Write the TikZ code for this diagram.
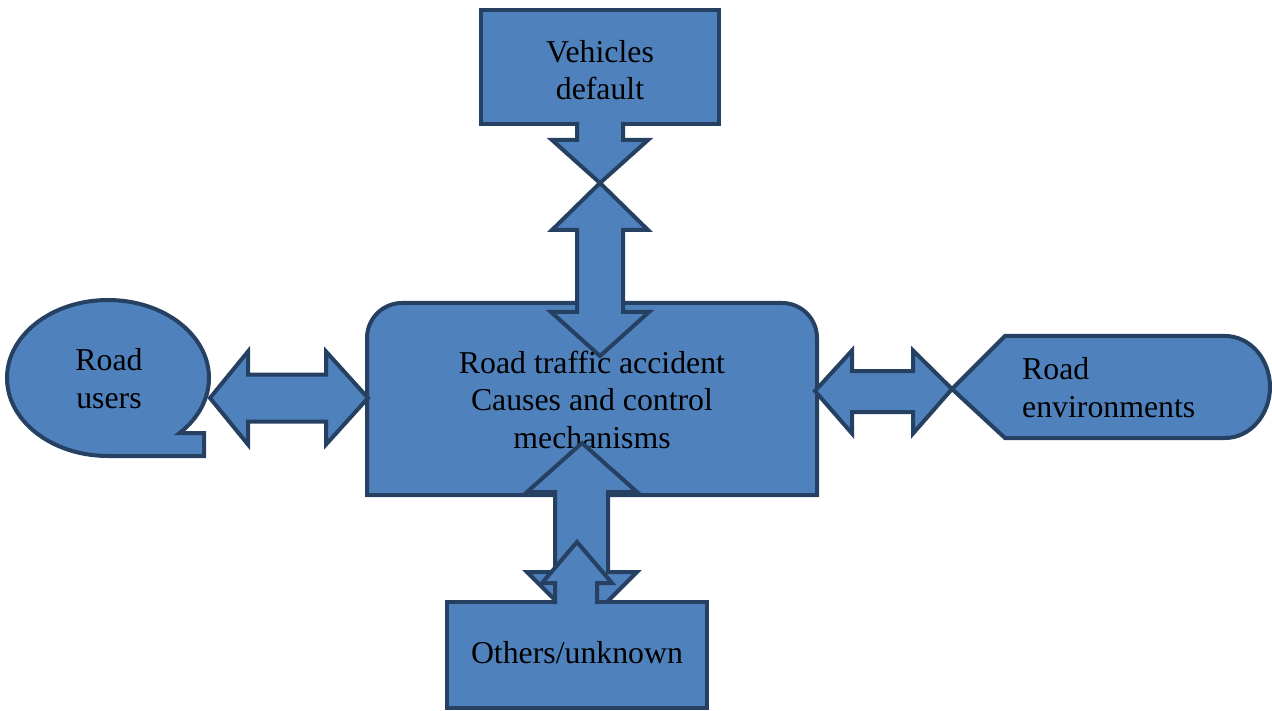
\documentclass[tikz,border=0pt]{standalone}
\usepackage{fontspec}
\setmainfont{Liberation Serif}
\definecolor{fillc}{RGB}{79,129,189}
\definecolor{linec}{RGB}{37,64,97}
\tikzset{
  shp/.style={fill=fillc, draw=linec, line width=4pt, line join=miter},
  fillonly/.style={fill=fillc, draw=none},
  edgeonly/.style={draw=linec, line width=4pt, line join=miter},
  lbl/.style={font=\fontsize{31.8}{37.5}\selectfont, text=black, inner sep=0pt, align=center, anchor=base},
}
\begin{document}
\begin{tikzpicture}[x=1pt,y=1pt]
\useasboundingbox (0,0) rectangle (1272,-711);

% Vehicles default box
\path[shp] (481,-10) rectangle (719,-124);
% down arrow from vehicles box
\path[fillonly] (577,-118) -- (577,-140) -- (552,-140) -- (600,-183) -- (648,-140) -- (623,-140) -- (623,-118) -- cycle;
\draw[edgeonly] (577,-122) -- (577,-140) -- (552,-140) -- (600,-183) -- (648,-140) -- (623,-140) -- (623,-122);

% central box (top corners rounded)
\path[shp] (367,-495) -- (367,-338) arc[start angle=180,end angle=90,radius=35]
  -- (782,-303) arc[start angle=90,end angle=0,radius=35] -- (817,-495) -- cycle;

% double arrow between vehicles and centre
\path[shp] (600,-183) -- (648,-230) -- (623,-230) -- (623,-312) -- (649,-312) -- (600,-356)
  -- (551,-312) -- (577,-312) -- (577,-230) -- (552,-230) -- cycle;

\node[lbl] (center) at (592,-448) {Road traffic accident\\Causes and control\\mechanisms};

% double arrow between centre and others
\path[shp] (582,-443) -- (637,-492) -- (608,-492) -- (608,-572) -- (637,-572) -- (582,-627)
  -- (527,-572) -- (555,-572) -- (555,-492) -- (527,-492) -- cycle;

% Others box
\path[shp] (447,-602) rectangle (707,-708);
% up arrow from others box
\path[fillonly] (555,-607) -- (555,-583) -- (542,-583) -- (577,-542) -- (612,-583) -- (597,-583) -- (597,-607) -- cycle;
\draw[edgeonly] (555,-604) -- (555,-583) -- (542,-583) -- (577,-542) -- (612,-583) -- (597,-583) -- (597,-604);

% Road users shape
\path[shp] (108,-456) arc[start angle=270,end angle=-45,x radius=101,y radius=78]
  -- (204,-433.2) -- (204,-456) -- cycle;
% left double arrow
\path[shp] (210,-398) -- (248,-351.5) -- (248,-374.5) -- (326,-374.5) -- (326,-351.5) -- (368,-398)
  -- (326,-444.5) -- (326,-421.5) -- (248,-421.5) -- (248,-444.5) -- cycle;

% Road environments shape
\path[shp] (952,-389) -- (1005,-336) -- (1225,-336) arc[start angle=90,end angle=-90,x radius=45,y radius=51]
  -- (1005,-438) -- cycle;
% right double arrow
\path[shp] (815,-391) -- (852,-350.5) -- (852,-371) -- (913,-371) -- (913,-350.5) -- (952,-389)
  -- (913,-433.5) -- (913,-412) -- (852,-412) -- (852,-433.5) -- cycle;

\node[lbl] (vehicles) at (600,-100) {Vehicles\\default};
\node[lbl] (users) at (109,-408) {Road\\users};
\node[lbl, align=left, anchor=base west] (env) at (1022,-417) {Road\\environments};
\node[lbl] (others) at (577,-663) {Others/unknown};
\end{tikzpicture}
\end{document}
